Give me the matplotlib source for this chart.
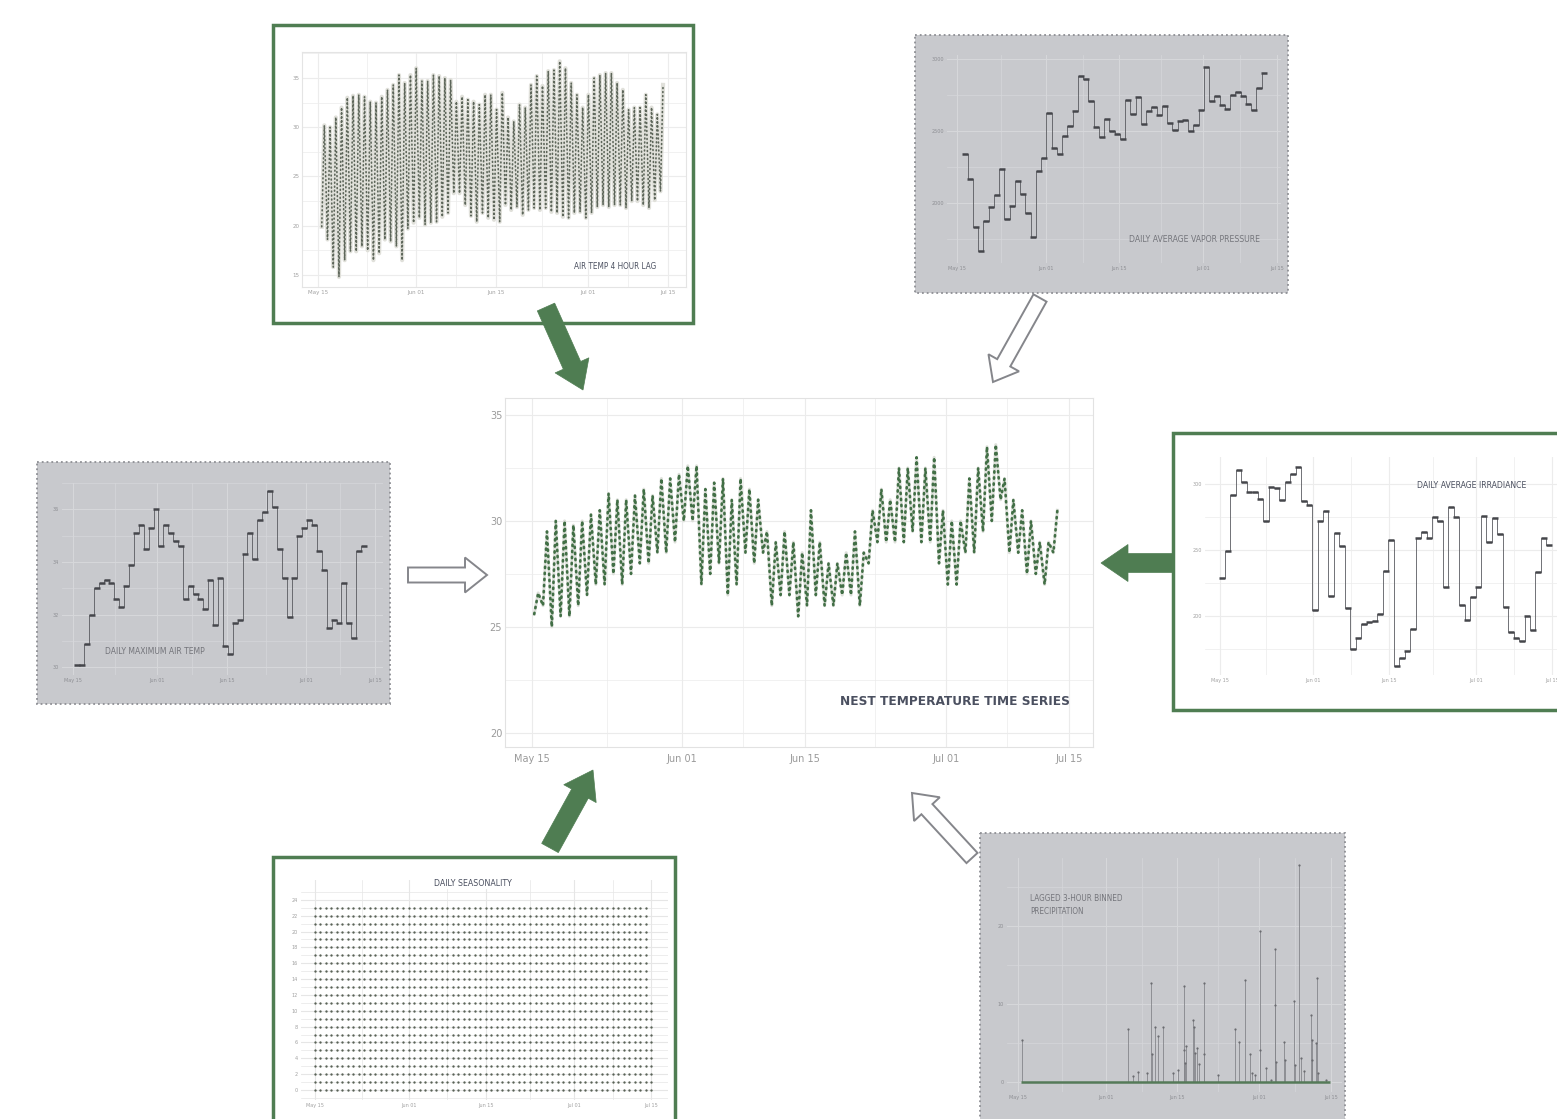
import numpy as np
import matplotlib
matplotlib.use("Agg")
from matplotlib import pyplot as plt
from matplotlib import font_manager
from matplotlib.patches import Rectangle, FancyArrow

W, H = 1557, 1119

# days counted from May 15
date_ticks = [0, 17, 31, 47, 61]
date_labels = ["May 15", "Jun 01", "Jun 15", "Jul 01", "Jul 15"]

# nest temperature (C), daily low / high
nest_low = [25.6, 26.0, 25.0, 25.5, 25.5, 26.0, 26.5, 27.0, 27.0, 27.5,
            27.0, 27.5, 28.0, 28.0, 28.5, 28.5, 29.0, 30.0, 30.0, 27.0,
            27.5, 28.0, 26.5, 27.0, 28.5, 28.0, 28.5, 26.0, 26.5, 26.5,
            25.5, 26.0, 26.5, 26.0, 26.0, 26.5, 26.5, 26.0, 28.0, 29.0,
            29.0, 29.0, 29.0, 29.5, 29.0, 29.0, 28.0, 27.0, 27.0, 28.5,
            28.5, 29.5, 30.0, 31.0, 28.5, 28.5, 27.5, 27.5, 27.0, 28.5]
nest_high = [26.6, 29.5, 30.0, 30.0, 29.8, 30.0, 30.3, 30.5, 31.3, 31.0,
             31.0, 31.2, 31.5, 31.2, 32.0, 32.0, 32.2, 32.6, 32.6, 31.5,
             31.8, 32.0, 31.0, 32.0, 31.5, 31.0, 29.5, 29.0, 29.5, 29.0,
             28.5, 30.5, 29.0, 28.0, 28.0, 28.5, 29.5, 28.5, 30.5, 31.5,
             31.0, 32.5, 32.5, 33.0, 32.5, 33.0, 30.5, 30.0, 30.0, 32.0,
             32.5, 33.5, 33.6, 32.0, 31.0, 30.5, 30.0, 29.0, 29.0, 30.5]

# air temperature with 4 hour lag (C), daily low / high
air_low = [19.9, 18.6, 15.8, 14.8, 16.5, 17.4, 17.4, 17.9, 17.5, 16.5,
           17.2, 18.6, 18.4, 17.9, 16.5, 19.7, 20.3, 20.8, 20.1, 20.3,
           20.4, 20.9, 21.3, 23.3, 23.3, 22.1, 21.0, 20.4, 21.3, 20.8,
           20.6, 20.4, 22.1, 21.6, 21.9, 21.1, 21.6, 21.8, 21.6, 21.8,
           21.4, 21.3, 20.9, 20.8, 21.3, 21.4, 20.8, 21.3, 21.9, 22.1,
           21.9, 22.1, 22.1, 21.8, 22.5, 22.5, 22.1, 21.8, 22.6, 23.5]
air_high = [30.2, 30.0, 31.0, 32.0, 33.0, 33.2, 33.3, 33.1, 32.6, 32.5,
            33.1, 33.8, 34.3, 35.3, 34.5, 35.3, 36.0, 34.7, 34.7, 35.3,
            35.2, 35.0, 34.8, 32.6, 33.1, 32.8, 32.6, 32.3, 33.3, 33.3,
            31.8, 33.5, 31.0, 30.6, 32.3, 32.0, 34.3, 35.2, 34.2, 35.7,
            35.8, 36.7, 36.0, 34.5, 33.3, 32.0, 33.3, 35.0, 35.3, 35.5,
            35.5, 34.5, 33.8, 31.8, 32.0, 32.0, 33.3, 32.0, 31.3, 34.3]

# daily average vapor pressure (Pa)
vapor_pressure = [2339, 2166, 1832, 1671, 1878, 1975, 2055, 2240, 1890, 1982,
                  2155, 2062, 1935, 1763, 2224, 2316, 2627, 2385, 2339, 2470,
                  2539, 2638, 2885, 2862, 2707, 2530, 2461, 2585, 2500, 2484,
                  2447, 2719, 2622, 2737, 2553, 2638, 2668, 2615, 2677, 2558,
                  2512, 2569, 2581, 2500, 2546, 2650, 2949, 2707, 2742, 2684,
                  2654, 2753, 2776, 2742, 2691, 2650, 2800, 2903]

# daily maximum air temperature (C)
max_air_temp = [30.1, 30.1, 30.9, 32.0, 33.0, 33.2, 33.3, 33.2, 32.6, 32.3,
                33.1, 33.9, 35.1, 35.4, 34.5, 35.3, 36.0, 34.6, 35.4, 35.1,
                34.8, 34.6, 32.6, 33.1, 32.8, 32.6, 32.2, 33.3, 31.6, 33.4,
                30.8, 30.5, 31.7, 31.8, 34.3, 35.1, 34.1, 35.6, 35.9, 36.7,
                36.1, 34.5, 33.4, 31.9, 33.4, 35.0, 35.3, 35.6, 35.4, 34.4,
                33.7, 31.5, 31.8, 31.7, 33.2, 31.7, 31.1, 34.4, 34.6]

# daily average irradiance
irradiance = [229, 249, 292, 311, 302, 294, 294, 289, 272, 298,
              297, 288, 302, 308, 313, 287, 284, 204, 272, 280,
              215, 263, 253, 206, 175, 183, 194, 195, 196, 201,
              234, 258, 162, 168, 173, 190, 259, 264, 259, 275,
              272, 222, 283, 275, 208, 197, 214, 222, 276, 256,
              274, 262, 207, 188, 183, 181, 200, 189, 233, 259, 254]

# daily seasonality: hour of day for every recorded day
season_days = list(range(0, 61))
season_hours = [0, 1, 2, 3, 4, 5, 6, 7, 8, 9, 10, 11,
                12, 13, 14, 15, 16, 17, 18, 19, 20, 21, 22, 23]
season_last_day = 61
season_last_hours = [0, 1, 2, 3, 4, 5, 6, 7, 8, 9, 10, 11]

# lagged 3-hour binned precipitation (mm), non-zero bins
precip_day = [0.66, 21.3, 22.3, 23.3, 25.0, 25.9, 26.1, 26.6, 27.2, 28.1,
              30.2, 31.1, 32.2, 32.35, 32.5, 32.6, 34.1, 34.2, 34.4, 34.9,
              35.3, 36.1, 36.2, 39.0, 42.3, 43.1, 44.1, 45.1, 45.6, 46.2,
              47.1, 47.2, 48.2, 49.2, 50.0, 50.1, 50.2, 51.8, 51.9, 53.8,
              54.0, 54.8, 55.1, 55.7, 57.0, 57.2, 57.3, 58.2, 58.0, 58.4, 60.0]
precip_mm = [5.4, 6.7, 0.7, 1.3, 1.1, 12.7, 3.5, 7.0, 5.9, 7.0,
             1.1, 1.5, 12.3, 4.1, 2.4, 4.6, 7.9, 7.0, 3.7, 4.3,
             2.2, 12.7, 3.5, 0.8, 6.7, 5.1, 13.1, 3.6, 1.1, 0.9,
             19.3, 4.1, 1.8, 0.2, 17.0, 9.8, 2.5, 5.1, 2.8, 10.3,
             2.1, 27.8, 3.0, 1.4, 8.5, 5.4, 2.8, 13.3, 5.0, 1.1, 0.2]
precip_first_day, precip_last_day = 0.5, 60.8

GREEN = "#4f7d52"
PANEL_GRAY = "#c8c9cd"
GRID_GRAY = "#d6d7da"
TEXT_DARK = "#4b5060"

# look for a narrow face for the panel captions
NARROW = "DejaVu Sans"
NARROW_STRETCH = "normal"
for entry in font_manager.fontManager.ttflist:
    if ("Narrow" in entry.name or "Condensed" in entry.name
            or entry.stretch in ("condensed", "semi-condensed")):
        NARROW = entry.name
        NARROW_STRETCH = "condensed"
        break

fig = plt.figure(figsize=(W / 100, H / 100), dpi=100)


def px_axes(x0, y0, x1, y1, zorder=1):
    return fig.add_axes([x0 / W, 1 - y1 / H, (x1 - x0) / W, (y1 - y0) / H],
                        zorder=zorder)


def style_axes(ax, xlim, ylim, yticks, ylabels, bg, grid, size, color,
               border=None, ystep=None):
    ax.set_facecolor(bg)
    ax.set_xlim(xlim)
    ax.set_xticks(date_ticks)
    ax.set_xticklabels(date_labels)
    ax.set_xticks([(a + b) / 2 for a, b in zip(date_ticks[:-1], date_ticks[1:])],
                  minor=True)
    ax.set_yticks(yticks)
    ax.set_yticklabels(ylabels)
    step = ystep if ystep is not None else yticks[1] - yticks[0]
    ax.set_yticks(np.arange(min(yticks) - step / 2, max(yticks) + step, step),
                  minor=True)
    ax.set_ylim(ylim)
    ax.grid(True, which="major", color=grid, lw=0.8)
    ax.grid(True, which="minor", color=grid, lw=0.5)
    ax.set_axisbelow(True)
    ax.tick_params(which="both", length=0, labelsize=size, labelcolor=color,
                   pad=2)
    for spine in ax.spines.values():
        if border is None:
            spine.set_visible(False)
        else:
            spine.set_color(border)
            spine.set_linewidth(0.8)


def zigzag(ax, start, low, high, band, dots, band_lw, dot_lw, dash):
    days = start + np.arange(len(low))
    t = np.ravel(np.column_stack([days + 0.15, days + 0.6]))
    v = np.ravel(np.column_stack([low, high]))
    ax.plot(t, v, color=band, lw=band_lw, solid_joinstyle="round")
    ax.plot(t, v, color=dots, lw=dot_lw, linestyle=(0, dash),
            dash_capstyle="round")


def steps(ax, start, values):
    days = start + np.arange(len(values))
    ax.step(days, values, where="mid", color="#5a5b60", lw=0.6)
    ax.plot(days, values, ls="none", marker="_", ms=4.5, mew=1.8,
            color="#45464b")


captions = []


def caption(ax, x, y, s, width, color, ha, va="center", **kw):
    t = ax.text(x, y, s, transform=ax.transAxes, ha=ha, va=va, fontsize=6,
                color=color, family=NARROW, fontstretch=NARROW_STRETCH, **kw)
    captions.append((t, width))
    return t


# panel backgrounds and frames
bg = px_axes(0, 0, W, H, zorder=0)
bg.set_xlim(0, W)
bg.set_ylim(H, 0)
bg.axis("off")
for x0, y0, x1, y1 in [(273, 25, 693, 323), (1173, 433, 1620, 710),
                       (273, 857, 675, 1160)]:
    bg.add_patch(Rectangle((x0, y0), x1 - x0, y1 - y0, facecolor="white",
                           edgecolor=GREEN, lw=2.5))
for x0, y0, x1, y1 in [(915, 35, 1288, 293), (37, 462, 390, 704),
                       (980, 833, 1345, 1160)]:
    bg.add_patch(Rectangle((x0, y0), x1 - x0, y1 - y0, facecolor=PANEL_GRAY,
                           edgecolor="#8e8f94", lw=1.3, linestyle=":"))

# top left: air temp 4 hour lag
ax = px_axes(302, 52, 686, 287)
style_axes(ax, (-2.79, 64.1), (13.78, 37.64), [15, 20, 25, 30, 35],
           ["15", "20", "25", "30", "35"], "white", "#ececec", 4, "#a0a0a0",
           border="#e4e4e4")
zigzag(ax, 0.5, air_low, air_high, "#e0e0da", "#5d665a", 3.0, 1.2,
       (0.5, 1.9))
caption(ax, 0.922, 0.089, "AIR TEMP 4 HOUR LAG", 83, TEXT_DARK, "right")

# top right: daily average vapor pressure
ax = px_axes(947, 55, 1281, 263)
style_axes(ax, (-1.85, 61.8), (1585, 3030), [2000, 2500, 3000],
           ["2000", "2500", "3000"], PANEL_GRAY, GRID_GRAY, 3.5, "#8d8e93")
steps(ax, 1.6, vapor_pressure)
caption(ax, 0.937, 0.115, "DAILY AVERAGE VAPOR PRESSURE", 132, "#74757b",
        "right")

# centre: nest temperature
ax = px_axes(505, 398, 1093, 747)
style_axes(ax, (-3.07, 63.75), (19.33, 35.8), [20, 25, 30, 35],
           ["20", "25", "30", "35"], "white", "#ebebeb", 7, "#9a9a9a",
           border="#e2e2e2")
ax.tick_params(axis="x", pad=5)
zigzag(ax, 0.1, nest_low, nest_high, "#dde0da", "#426f46", 2.2, 1.9,
       (0.5, 1.8))
caption(ax, 0.961, 0.129, "NEST TEMPERATURE TIME SERIES", 232, TEXT_DARK,
        "right", fontweight="bold")

# left: daily maximum air temp
ax = px_axes(62, 483, 383, 675)
style_axes(ax, (-2.3, 62.6), (29.71, 37.0), [30, 32, 34, 36],
           ["30", "32", "34", "36"], PANEL_GRAY, GRID_GRAY, 3.5, "#8d8e93")
steps(ax, 0.7, max_air_temp)
caption(ax, 0.134, 0.12, "DAILY MAXIMUM AIR TEMP", 100, "#74757b", "left")

# right: daily average irradiance
ax = px_axes(1205, 457, 1566, 675)
style_axes(ax, (-2.76, 63.5), (154.9, 320.8), [200, 250, 300],
           ["200", "250", "300"], "white", "#ececec", 3.5, "#a0a0a0")
steps(ax, 0.4, irradiance)
caption(ax, 0.587, 0.87, "DAILY AVERAGE IRRADIANCE", 111, TEXT_DARK, "left")

# bottom left: daily seasonality
ax = px_axes(301, 880, 668, 1100)
style_axes(ax, (-2.48, 64.0), (-1.26, 26.5), list(range(0, 25, 2)),
           [str(h) for h in range(0, 25, 2)], "white", "#e6e6e6", 3.5,
           "#a0a0a0", ystep=2)
dd, hh = np.meshgrid(season_days, season_hours)
ax.plot(dd.ravel(), hh.ravel(), ls="none", marker="o", ms=1.7, mew=0,
        color="#596256")
ax.plot([season_last_day] * len(season_last_hours), season_last_hours,
        ls="none", marker="o", ms=1.7, mew=0, color="#596256")
caption(ax, 0.469, 0.986, "DAILY SEASONALITY", 78, TEXT_DARK, "center",
        bbox=dict(facecolor="white", edgecolor="none", pad=1))

# bottom right: lagged precipitation
ax = px_axes(1007, 858, 1342, 1092)
style_axes(ax, (-2.23, 63.1), (-1.33, 28.7), [0, 10, 20], ["0", "10", "20"],
           PANEL_GRAY, GRID_GRAY, 3.5, "#8d8e93")
ax.vlines(precip_day, 0, precip_mm, color="#85868b", lw=0.6)
ax.plot(precip_day, precip_mm, ls="none", marker="o", ms=1.6, mew=0,
        color="#6a6b70")
ax.hlines(0, precip_first_day, precip_last_day, color="#557a58", lw=1.8)
caption(ax, 0.069, 0.846, "LAGGED 3-HOUR BINNED\nPRECIPITATION", 93,
        "#74757b", "left", va="top", linespacing=1.6)

# scale the captions to the widths they have in the picture
renderer = fig.canvas.get_renderer()
for text, width in captions:
    box = text.get_window_extent(renderer)
    text.set_fontsize(text.get_fontsize() * width / box.width)

# arrows
ov = px_axes(0, 0, W, H, zorder=5)
ov.set_xlim(0, W)
ov.set_ylim(H, 0)
ov.axis("off")
ov.patch.set_alpha(0)
green_arrows = [((546, 307), (583, 390)), ((550, 848), (593, 770)),
                ((1174, 563), (1101, 563))]
for (x0, y0), (x1, y1) in green_arrows:
    ov.add_patch(FancyArrow(x0, y0, x1 - x0, y1 - y0, width=19,
                            head_width=37, head_length=27,
                            length_includes_head=True, facecolor=GREEN,
                            edgecolor=GREEN, lw=0.5))
hollow_arrows = [((1040, 298), (993, 382)), ((408, 575), (487, 575)),
                 ((972, 858), (912, 793))]
for (x0, y0), (x1, y1) in hollow_arrows:
    ov.add_patch(FancyArrow(x0, y0, x1 - x0, y1 - y0, width=15,
                            head_width=35, head_length=22,
                            length_includes_head=True, facecolor="white",
                            edgecolor="#85868b", lw=1.4))

fig.savefig("out.png", dpi=100)
